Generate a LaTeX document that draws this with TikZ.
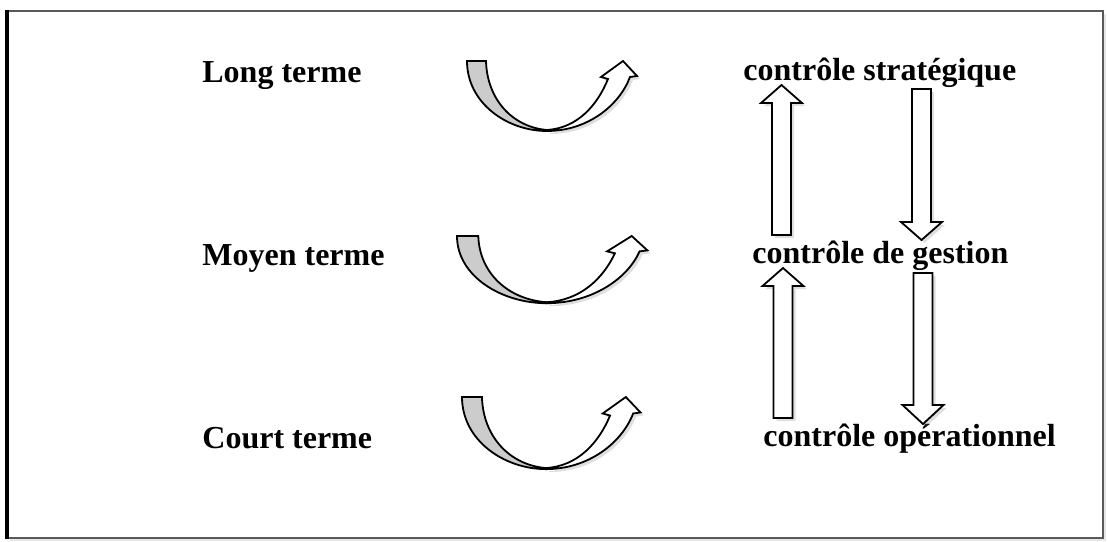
\documentclass[tikz,border=0pt]{standalone}
\usepackage{fontspec}
\setmainfont{Liberation Serif}
\usetikzlibrary{shadows}

\tikzset{
	lbl/.style={font=\fontsize{16}{19}\selectfont\bfseries, inner sep=0pt, anchor=base west},
	blk/.style={draw=black, line width=0.9pt, line join=miter, fill=white,
		drop shadow={opacity=0.25, shadow xshift=1.5pt, shadow yshift=-1.5pt}},
	tail/.style={draw=black, line width=0.9pt, fill=gray!40},
	bendarr/.pic={
		\draw[blk] (80,70) .. controls (120,70) and (152,45) .. (163,16)
			-- (170,15) -- (156,0) -- (134,16) -- (141,18)
			.. controls (130,45) and (110,67) .. (80,69) -- cycle;
		\draw[tail] (0,0) -- (19,0) .. controls (20,38) and (45,66) .. (80,69)
			-- (80,70) .. controls (40,70) and (0,42) .. (0,0) -- cycle;
	}
}

% block arrow: centre x, start y, head y, tip y
\newcommand{\vblock}[4]{
	\draw[blk] (#1-9.5,#2) -- (#1-9.5,#3) -- (#1-20.5,#3) -- (#1,#4)
		-- (#1+20.5,#3) -- (#1+9.5,#3) -- (#1+9.5,#2) -- cycle;
}

\begin{document}
\begin{tikzpicture}[x=0.5pt, y=-0.5pt]
	\useasboundingbox (0,0) rectangle (1107,541);
	% frame
	\draw[gray!70!black, line width=1pt, fill=white,
		drop shadow={opacity=0.2, shadow xshift=1.5pt, shadow yshift=-1.5pt}] (7,11) rectangle (1103,538);
	\draw[black, line width=1.6pt] (7,10) -- (7,538.5);

	% horizons
	\node[lbl] (lt) at (202,82) {Long terme};
	\node[lbl] (mt) at (202,265) {Moyen terme};
	\node[lbl] (ct) at (202,448) {Court terme};

	% controles
	\node[lbl] (cs) at (743,80) {contrôle stratégique};
	\node[lbl] (cg) at (752,263) {contrôle de gestion};
	\node[lbl] (co) at (763,446) {contrôle opérationnel};

	% curved arrows
	\pic at (467,61) {bendarr};
	\pic[xscale=1.12, yscale=0.96] at (457,236) {bendarr};
	\pic[xscale=1.05, yscale=1.03] at (462,397) {bendarr};

	% up and down arrows
	\vblock{781.5}{235}{103}{85}
	\vblock{921.5}{89}{222}{240}
	\vblock{783}{418}{286}{268}
	\vblock{923}{273}{405}{424}
\end{tikzpicture}
\end{document}
